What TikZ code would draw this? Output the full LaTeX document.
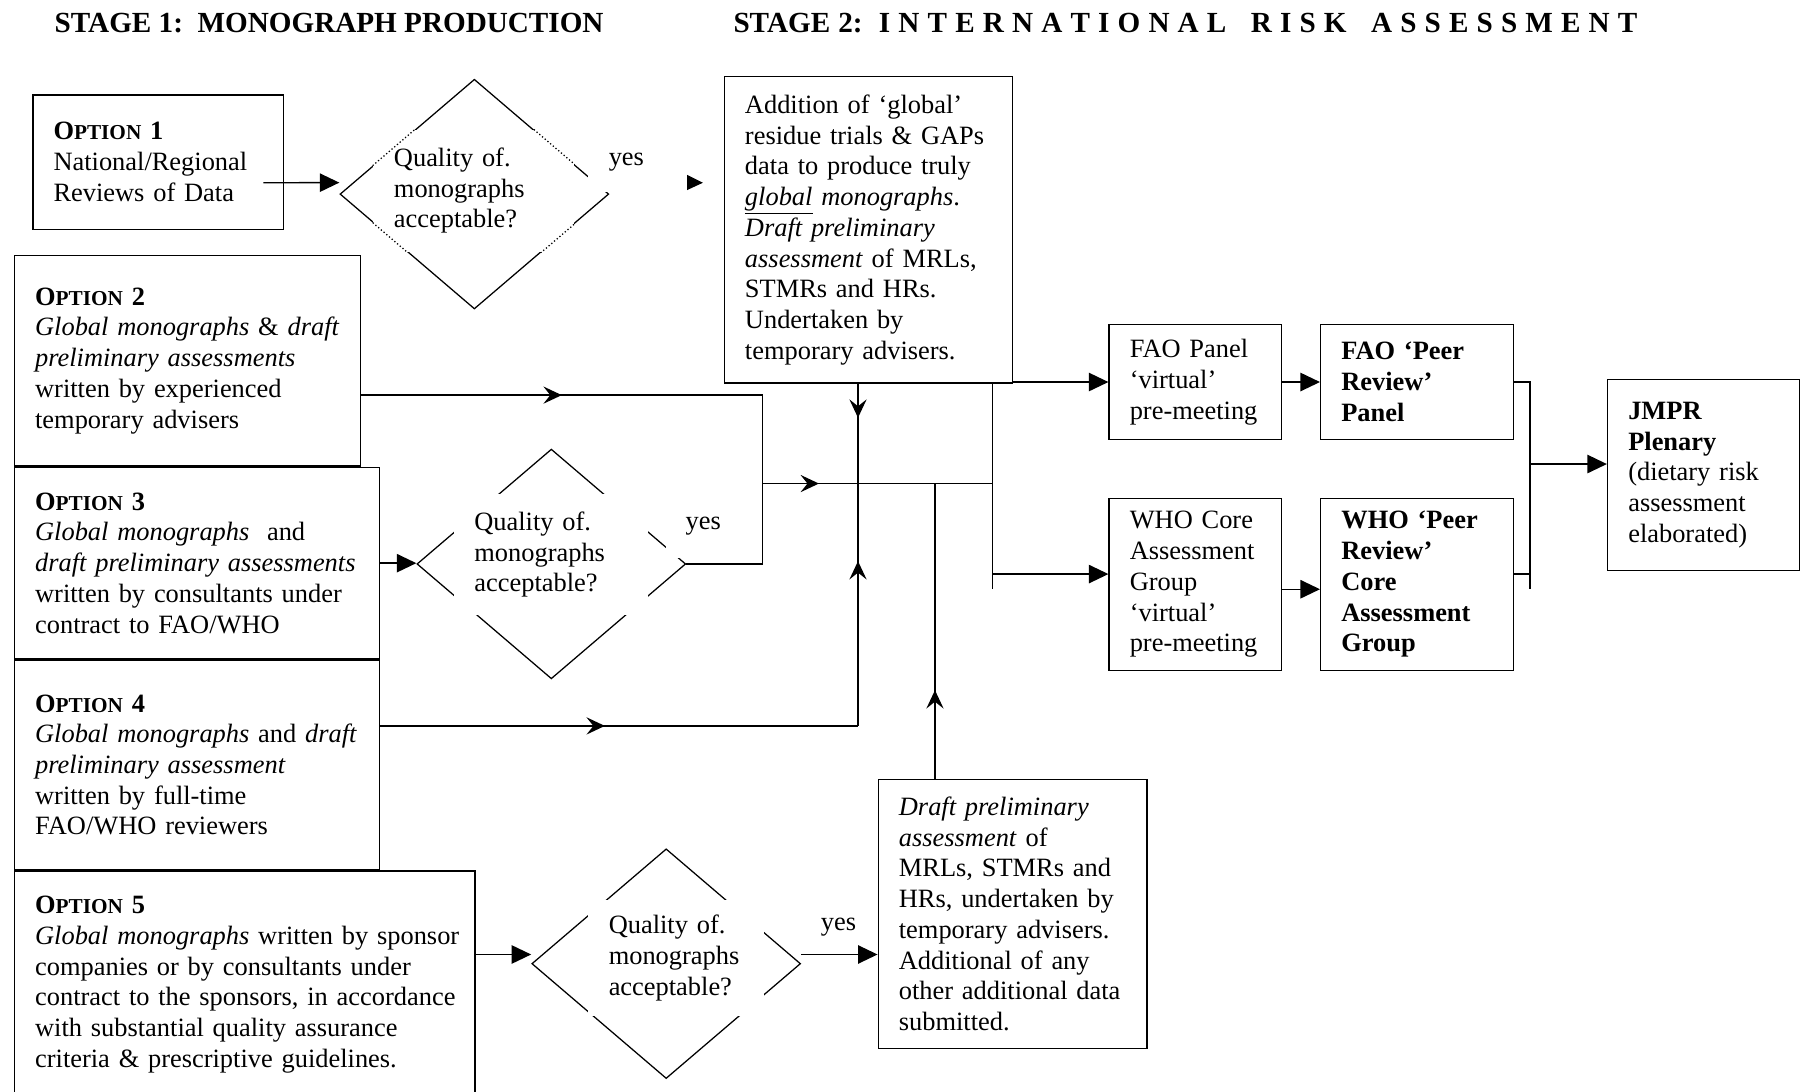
\documentclass[tikz,border=0pt]{standalone}
\usepackage{fontspec}
\setmainfont{Liberation Serif}
\usetikzlibrary{
        arrows.meta,
        calc,
        decorations.markings,
        positioning,
        shapes.geometric
    }
\tikzset{tri/.style={-{Triangle[length=17pt,width=16pt]}}}
\tikzset{barb/.style={postaction={decorate},decoration={markings,mark=at position #1 with {\arrow{Stealth[length=16pt,width=15pt,inset=6pt]}}}}}
\tikzset{stagebox/.style={draw,align=left,inner xsep=18pt,inner ysep=0pt,anchor=north west}}
\tikzset{dia/.style={draw,shape=diamond,minimum width=234pt,minimum height=200pt,inner sep=0pt,line width=1.1pt}}
\tikzset{qtext/.style={fill=white,align=left,inner xsep=18pt,inner ysep=0pt}}
\newcommand{\optname}[1]{\textbf{O{\fontsize{18.5}{20}\selectfont PTION} #1}}

\begin{document}
\begin{tikzpicture}[x=1pt,y=-1pt,line width=1.2pt,font=\fontsize{23}{26.75}\selectfont]
                \useasboundingbox (0,0) rectangle (1568,950);
                \node[anchor=west,inner sep=0pt] (stage1) at (47,20) {\fontsize{25.4}{28}\selectfont\bfseries STAGE 1:\ \ MONOGRAPH PRODUCTION};
                \node[anchor=west,inner sep=0pt] (stage2) at (638,20) {\fontsize{25.4}{28}\selectfont\bfseries\makebox[787pt][s]{STAGE 2:\ \ I N T E R N A T I O N A L\ \ \ R I S K\ \ \ A S S E S S M E N T}};
                \node[stagebox,text width=182pt,minimum height=117pt] (opt1) at (28,82) {\optname{1}\\National/Regional\\Reviews of Data};
                \node[stagebox,text width=265pt,minimum height=183pt] (opt2) at (12,222) {\optname{2}\\\textit{Global monographs} \& \textit{draft}\\\textit{preliminary assessments}\\written by experienced\\temporary advisers};
                \node[stagebox,text width=282pt,minimum height=167pt] (opt3) [below=0pt of opt2.south west,anchor=north west] {\optname{3}\\\textit{Global monographs}\ \ and\\\mbox{\textit{draft preliminary assessments}}\\written by consultants under\\contract to FAO/WHO};
                \node[stagebox,text width=282pt,minimum height=182pt] (opt4) [below=0pt of opt3.south west,anchor=north west] {\optname{4}\\\mbox{\textit{Global monographs} and \textit{draft}}\\\textit{preliminary assessment}\\written by full-time\\FAO/WHO reviewers};
                \node[stagebox,text width=365pt,minimum height=198pt] (opt5) [below=0pt of opt4.south west,anchor=north west] {\optname{5}\\\mbox{\textit{Global monographs} written by sponsor}\\companies or by consultants under\\\mbox{contract to the sponsors, in accordance}\\with substantial quality assurance\\criteria \& prescriptive guidelines.};
                \node[stagebox,text width=215pt,minimum height=267pt] (add) at (630,66) {Addition of ‘global’\\residue trials \& GAPs\\data to produce truly\\\underline{\textit{global}} \textit{monographs}.\\\textit{Draft preliminary}\\\textit{assessment} of MRLs,\\STMRs and HRs.\\Undertaken by\\temporary advisers.};
                \node[stagebox,text width=198pt,minimum height=234pt] (draft) at (764,678) {\textit{Draft preliminary}\\\textit{assessment} of\\MRLs, STMRs and\\HRs, undertaken by\\temporary advisers.\\Additional of any\\other additional data\\submitted.};
                \node[stagebox,text width=114pt,minimum height=100pt] (fao) at (965,282) {FAO Panel\\‘virtual’\\\mbox{pre-meeting}};
                \node[stagebox,text width=114pt,minimum height=150pt] (who) [below=50pt of fao.south west,anchor=north west] {WHO Core\\Assessment\\Group\\‘virtual’\\\mbox{pre-meeting}};
                \node[stagebox,text width=132pt,minimum height=100pt] (faopeer) [right=33pt of fao] {\textbf{FAO ‘Peer}\\\textbf{Review’}\\\textbf{Panel}};
                \node[stagebox,text width=132pt,minimum height=150pt] (whopeer) [right=33pt of who] {\textbf{WHO ‘Peer}\\\textbf{Review’}\\\textbf{Core}\\\textbf{Assessment}\\\textbf{Group}};
                \node[stagebox,text width=131pt,minimum height=166pt] (jmpr) at (1399,330) {\textbf{JMPR}\\\textbf{Plenary}\\(dietary risk\\assessment\\elaborated)};
                \node[dia] (d1) at (413,169) {};
                \node[dia] (d2) at (480,491) {};
                \node[dia] (d3) at (580,839) {};
                \draw[tri] ($(d1.east)+(0,-11)$) -- ($(add.west)+(-18,-41)$);
                \node[qtext,text width=139pt,minimum height=106pt] (q1) at (412.5,166) {Quality of.\\monographs\\acceptable?};
                \node[qtext,text width=133pt,minimum height=105pt] (q2) at (479.5,483) {Quality of.\\monographs\\acceptable?};
                \node[qtext,text width=117pt,minimum height=101pt] (q3) at (588.5,834) {Quality of.\\monographs\\acceptable?};
                \begin{scope}
                    \clip (q1.south west) rectangle (q1.north east);
                    \draw[dotted,line width=1.1pt] (d1.north) -- (d1.east) -- (d1.south) -- (d1.west) -- cycle;
                \end{scope}
                \node[qtext,text width=50pt,minimum height=52pt] (yes1) at (555,141) {yes};
                \node[qtext,inner xsep=17pt,text width=36pt,minimum height=56pt] (yes2) at (615,458) {yes};
                \node (yes3) at (730,807) {yes};
                \coordinate (m2) at (664,344);
                \coordinate (hub) at (747,421);
                \coordinate (o4) at (747,632);
                \coordinate (dup) at (814,421);
                \coordinate (bus) at (864,513);
                \coordinate (jb) at (1332,404);
                \coordinate (c5) at ($(d3.west)+(0,-8)$);
                \coordinate (c6) at ($(d3.east)+(0,-8)$);
                \coordinate (w1) at ($(who.west)+(0,-9)$);
                \draw[tri] ($(opt1.east)+(-18,18)$) -- ($(d1.west)+(0,-10)$);
                \draw[tri] (opt3.east) -- (opt3.east -| d2.west);
                \draw[tri] (opt5.east |- c5) -- (c5);
                \draw[tri] (c6) -- (c6 -| draft.west);
                \draw[barb=0.5] (opt2.east |- m2) -- (m2);
                \draw (m2) -- (m2 |- d2.east) -- (d2.east);
                \draw[barb=0.245] (m2 |- hub) -- (bus |- hub);
                \draw[barb=0.34] (add.south -| hub) -- (hub);
                \draw[barb=0.47] (opt4.east |- o4) -- (o4);
                \draw[barb=0.68] (o4) -- (hub);
                \draw[barb=0.3] (draft.north west -| dup) -- (dup);
                \draw (add.south -| bus) -- (bus);
                \draw[tri] (add.east |- fao.west) -- (fao.west);
                \draw[tri] (bus |- w1) -- (w1);
                \path[tri]
                    (fao) edge (faopeer)
                    (who.east |- bus) edge (whopeer.west |- bus);
                \draw (faopeer.east) -- (faopeer.east -| jb) -- (jb |- bus);
                \draw (whopeer.east |- w1) -- (jb |- w1);
                \draw[tri] (jb) -- (jb -| jmpr.west);
            \end{tikzpicture}
\end{document}
